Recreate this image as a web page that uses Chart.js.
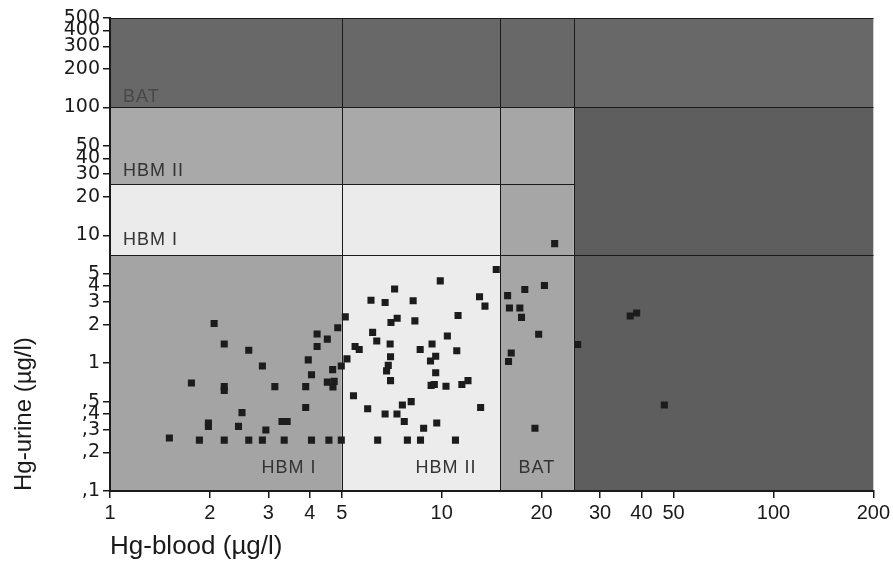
<!DOCTYPE html>
<html><head><meta charset="utf-8">
<script src="https://cdn.jsdelivr.net/npm/chart.js@4.4.1/dist/chart.umd.min.js"></script>
<style>html,body{margin:0;padding:0;background:#fff;}#wrap{width:893px;height:586px;}</style>
</head><body><div id="wrap"><canvas id="c" width="893" height="586"></canvas></div>
<script>
// Hg in blood (µg/l) and Hg in urine (µg/l), one entry per subject
const hgBlood = [
  2.06,2.21,2.62,2.88,1.76,2.21,2.21,3.14,3.89,4.21,4.52,4.21,4.86,3.96,4.69,4.98,4.05,4.52,4.74,4.70,
  2.50,3.89,1.98,1.98,2.44,2.95,3.30,3.42,1.51,1.86,2.21,2.62,2.88,3.35,4.05,4.57,4.98,
  5.12,5.18,5.42,5.48,5.64,14.6,9.9,7.21,6.12,6.75,8.20,13.0,13.5,7.34,7.03,8.30,11.2,6.19,6.37,6.99,
  10.4,8.61,9.35,11.1,9.59,9.25,7.01,6.90,6.82,9.59,7.01,9.29,9.50,10.3,11.5,12.0,5.98,7.61,8.09,
  6.75,7.33,13.1,7.71,8.82,9.66,6.41,7.88,8.63,11.0,
  21.9,20.4,17.8,15.8,16.0,17.2,17.4,19.6,16.2,15.9,19.1,
  25.7,37.0,38.7,46.9
];
const hgUrine = [
  2.04,1.41,1.26,0.95,0.70,0.655,0.61,0.655,0.655,1.69,1.54,1.35,1.89,1.06,0.89,0.95,0.81,0.71,0.72,0.65,
  0.41,0.45,0.34,0.32,0.32,0.30,0.35,0.35,0.26,0.25,0.25,0.25,0.25,0.25,0.25,0.25,0.25,
  2.30,1.08,0.555,1.35,1.28,5.4,4.4,3.8,3.1,2.98,3.07,3.3,2.79,2.24,2.08,2.14,2.36,1.74,1.49,1.41,
  1.63,1.28,1.41,1.25,1.13,1.04,1.12,0.96,0.87,0.84,0.73,0.67,0.68,0.66,0.68,0.73,0.44,0.47,0.50,
  0.40,0.40,0.45,0.35,0.31,0.34,0.25,0.25,0.25,0.25,
  8.6,4.05,3.77,3.37,2.70,2.70,2.28,1.68,1.20,1.03,0.31,
  1.40,2.34,2.47,0.47
];
const xTicks = [1,2,3,4,5,10,20,30,40,50,100,200];
const xTickLabels = ['1','2','3','4','5','10','20','30','40','50','100','200'];
const yTicks = [500,400,300,200,100,50,40,30,20,10,5,4,3,2,1,0.5,0.4,0.3,0.2,0.1];
const yTickLabels = ['500','400','300','200','100','50','40','30','20','10','5','4','3','2','1',',5',',4',',3',',2',',1'];
const xRange = [1,200];
const yRange = [0.1,500];
// assessment thresholds: blood HBM I / HBM II / BAT, urine HBM I / HBM II / BAT
const bloodLimits = [5,15,25];
const urineLimits = [7,25,100];
const zoneNames = ['HBM I','HBM II','BAT'];

// zones: [xFrom, xTo, yFrom, yTo]
const zones = [
  [1,200,100,500],[25,200,0.1,100],[1,15,25,100],[1,15,7,25],[15,25,0.1,100],[1,5,0.1,7],[5,15,0.1,7]
];
const zoneColors = ['#686868','#5e5e5e','#a9a9a9','#ebebeb','#a6a6a6','#a4a4a4','#ececec'];

const zonePlugin = {
  id:'zones',
  beforeDraw(chart){
    const {ctx, scales:{x,y}} = chart;
    ctx.save();
    zones.forEach((z,i)=>{
      const x0=x.getPixelForValue(z[0]), x1=x.getPixelForValue(z[1]);
      const y0=y.getPixelForValue(z[2]), y1=y.getPixelForValue(z[3]);
      ctx.fillStyle=zoneColors[i];
      ctx.fillRect(x0,y1,x1-x0,y0-y1);
    });
    ctx.strokeStyle='#1a1a1a'; ctx.lineWidth=1;
    const L=(a,b,c,d)=>{ctx.beginPath();ctx.moveTo(Math.round(a)+0.5,Math.round(b)+0.5);ctx.lineTo(Math.round(c)+0.5,Math.round(d)+0.5);ctx.stroke();};
    bloodLimits.forEach(v=>{const px=x.getPixelForValue(v);L(px,y.getPixelForValue(yRange[0]),px,y.getPixelForValue(yRange[1]));});
    L(x.getPixelForValue(xRange[0]),y.getPixelForValue(urineLimits[0]),x.getPixelForValue(xRange[1]),y.getPixelForValue(urineLimits[0]));
    L(x.getPixelForValue(xRange[0]),y.getPixelForValue(urineLimits[1]),x.getPixelForValue(bloodLimits[2]),y.getPixelForValue(urineLimits[1]));
    L(x.getPixelForValue(xRange[0]),y.getPixelForValue(urineLimits[2]),x.getPixelForValue(xRange[1]),y.getPixelForValue(urineLimits[2]));
    L(x.left,y.top,x.right,y.top);
    // zone labels
    ctx.font='18px "Liberation Sans", Arial, sans-serif';
    try{ctx.letterSpacing='1px';}catch(e){}
    ctx.fillStyle='#3a3a3a';
    ctx.textBaseline='alphabetic';
    ctx.textAlign='left';
    const lx=x.getPixelForValue(xRange[0])+13;
    ctx.fillStyle='#484848';
    ctx.fillText(zoneNames[2],lx,y.getPixelForValue(urineLimits[2])-5);
    ctx.fillStyle='#333333';
    ctx.fillText(zoneNames[1],lx,y.getPixelForValue(urineLimits[1])-8);
    ctx.fillText(zoneNames[0],lx,y.getPixelForValue(urineLimits[0])-10);
    ctx.textAlign='center';
    const by=y.bottom-18;
    const mid=(a,b)=>(x.getPixelForValue(a)+x.getPixelForValue(b))/2;
    ctx.fillText(zoneNames[0],mid(xRange[0],bloodLimits[0])+63,by);
    ctx.fillText(zoneNames[1],mid(bloodLimits[0],bloodLimits[1])+25,by);
    ctx.fillText(zoneNames[2],mid(bloodLimits[1],bloodLimits[2]),by);
    ctx.restore();
  }
};

new Chart(document.getElementById('c'),{
  type:'scatter',
  data:{datasets:[{
    data:hgBlood.map((v,i)=>({x:v,y:hgUrine[i]})),
    pointStyle:'rect',pointRadius:5,pointHoverRadius:5,
    backgroundColor:'#1c1c1c',borderWidth:0
  }]},
  options:{
    responsive:false,animation:false,devicePixelRatio:1,
    layout:{padding:{top:18,right:15,left:0,bottom:0}},
    plugins:{legend:{display:false},tooltip:{enabled:false}},
    scales:{
      x:{type:'logarithmic',min:xRange[0],max:xRange[1],
        afterFit(s){s.height=95;},
        afterBuildTicks(s){s.ticks=xTicks.map(v=>({value:v}));},
        ticks:{autoSkip:false,maxRotation:0,padding:3,color:'#1a1a1a',
          font:{family:'"Liberation Sans", Arial, sans-serif',size:20},
          callback:(v,i)=>xTickLabels[i]},
        grid:{drawOnChartArea:false,drawTicks:true,tickLength:7,color:'#1a1a1a',lineWidth:1.5},
        border:{display:true,color:'#1a1a1a',width:2},
        title:{display:true,text:'Hg-blood (µg/l)',align:'start',color:'#1a1a1a',
          font:{family:'"Liberation Sans", Arial, sans-serif',size:26},padding:{top:0,bottom:24}}
      },
      y:{type:'logarithmic',min:yRange[0],max:yRange[1],
        afterFit(s){s.width=110;},
        afterBuildTicks(s){s.ticks=yTicks.map(v=>({value:v}));},
        ticks:{autoSkip:false,padding:3,color:'#1a1a1a',
          font:{family:'"DejaVu Sans", sans-serif',size:19},
          callback:(v,i)=>yTickLabels[i]},
        grid:{drawOnChartArea:false,drawTicks:true,tickLength:7,color:'#1a1a1a',lineWidth:1.5},
        border:{display:true,color:'#1a1a1a',width:2},
        title:{display:true,text:'Hg-urine (µg/l)',align:'start',color:'#1a1a1a',
          font:{family:'"Liberation Sans", Arial, sans-serif',size:24},padding:{top:10,bottom:0}}
      }
    }
  },
  plugins:[zonePlugin]
});
</script></body></html>
